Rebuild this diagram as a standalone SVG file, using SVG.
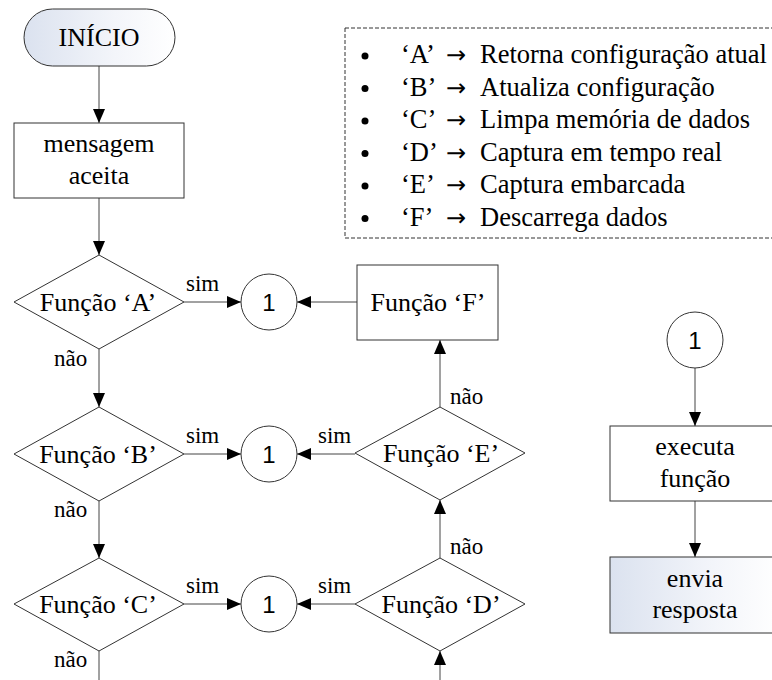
<svg xmlns="http://www.w3.org/2000/svg" width="772" height="680" viewBox="0 0 772 680">
<defs>
<linearGradient id="g" x1="0" y1="0" x2="1" y2="0">
<stop offset="0" stop-color="#dbe2ef"/>
<stop offset="0.6" stop-color="#f3f5fa"/>
<stop offset="1" stop-color="#ffffff"/>
</linearGradient>
<marker id="ah" viewBox="0 0 14 12" refX="14" refY="6" markerWidth="14" markerHeight="12" markerUnits="userSpaceOnUse" orient="auto">
<path d="M0,0 L14,6 L0,12 Z" fill="#000"/>
</marker>
<style>
.n{fill:#fff;stroke:#333;stroke-width:1}
.t{font-family:'Liberation Serif','Times New Roman',serif;font-size:26px;fill:#000;text-anchor:middle}
.l{font-family:'Liberation Serif','Times New Roman',serif;font-size:23px;fill:#000}
.lg{font-family:'Liberation Serif','Times New Roman',serif;font-size:26.5px;fill:#000}
.ar{font-family:'DejaVu Sans',sans-serif;font-size:24px;fill:#000}
.c{font-family:'Liberation Sans',Arial,sans-serif;font-size:24px;fill:#000;text-anchor:middle}
.e{stroke:#444;stroke-width:1;fill:none}
.a{stroke:#444;stroke-width:1;fill:none;marker-end:url(#ah)}
</style>
</defs>
<rect width="772" height="680" fill="#fff"/>

<g id="legend">
<rect x="345" y="28" width="440" height="210" fill="none" stroke="#333" stroke-width="1" stroke-dasharray="4 2"/>
<circle cx="365" cy="56" r="3.5"/><circle cx="365" cy="88.5" r="3.5"/><circle cx="365" cy="121" r="3.5"/>
<circle cx="365" cy="153.5" r="3.5"/><circle cx="365" cy="186" r="3.5"/><circle cx="365" cy="218.5" r="3.5"/>
<text class="lg" x="401" y="63">‘A’</text><text class="ar" x="446" y="63">→</text><text class="lg" x="480" y="63">Retorna configuração atual</text>
<text class="lg" x="401" y="95.5">‘B’</text><text class="ar" x="446" y="95.5">→</text><text class="lg" x="480" y="95.5">Atualiza configuração</text>
<text class="lg" x="401" y="128">‘C’</text><text class="ar" x="446" y="128">→</text><text class="lg" x="480" y="128">Limpa memória de dados</text>
<text class="lg" x="401" y="160.5">‘D’</text><text class="ar" x="446" y="160.5">→</text><text class="lg" x="480" y="160.5">Captura em tempo real</text>
<text class="lg" x="401" y="193">‘E’</text><text class="ar" x="446" y="193">→</text><text class="lg" x="480" y="193">Captura embarcada</text>
<text class="lg" x="401" y="225.5">‘F’</text><text class="ar" x="446" y="225.5">→</text><text class="lg" x="480" y="225.5">Descarrega dados</text>
</g>

<g id="connectors">
<line class="a" x1="99" y1="66" x2="99" y2="123"/>
<line class="a" x1="99" y1="198" x2="99" y2="255"/>
<line class="a" x1="99" y1="349" x2="99" y2="407"/>
<line class="a" x1="99" y1="501" x2="99" y2="558"/>
<line class="e" x1="99" y1="651" x2="99" y2="680"/>
<line class="a" x1="184" y1="302" x2="241" y2="302"/>
<line class="a" x1="184" y1="454" x2="241" y2="454"/>
<line class="a" x1="184" y1="604" x2="241" y2="604"/>
<line class="a" x1="357" y1="302" x2="297" y2="302"/>
<line class="a" x1="355" y1="454" x2="297" y2="454"/>
<line class="a" x1="355" y1="604" x2="297" y2="604"/>
<line class="a" x1="440" y1="407" x2="440" y2="340"/>
<line class="a" x1="440" y1="558" x2="440" y2="500"/>
<line class="a" x1="440" y1="680" x2="440" y2="651"/>
<line class="a" x1="695" y1="368" x2="695" y2="426"/>
<line class="a" x1="695" y1="501" x2="695" y2="557"/>
<text class="l" x="186" y="291">sim</text>
<text class="l" x="186" y="443">sim</text>
<text class="l" x="186" y="593">sim</text>
<text class="l" x="318" y="443">sim</text>
<text class="l" x="318" y="593">sim</text>
<text class="l" x="54" y="366">não</text>
<text class="l" x="54" y="517">não</text>
<text class="l" x="54" y="667">não</text>
<text class="l" x="450" y="404">não</text>
<text class="l" x="450" y="554">não</text>
</g>

<g id="inicio">
<rect x="24" y="9" width="151" height="57" rx="28.5" fill="url(#g)" stroke="#333"/>
<text class="t" x="99" y="46">INÍCIO</text>
</g>
<g id="mensagem">
<rect class="n" x="14" y="123" width="170" height="75"/>
<text class="t" x="99" y="152">mensagem</text>
<text class="t" x="99" y="184">aceita</text>
</g>
<g id="funcA">
<polygon class="n" points="99,255 184,302 99,349 14,302"/>
<text class="t" x="98" y="311">Função ‘A’</text>
</g>
<g id="funcB">
<polygon class="n" points="99,407 184,454 99,501 14,454"/>
<text class="t" x="98" y="463">Função ‘B’</text>
</g>
<g id="funcC">
<polygon class="n" points="99,558 184,604 99,651 14,604"/>
<text class="t" x="98" y="613">Função ‘C’</text>
</g>
<g id="c1a"><circle class="n" cx="269" cy="302" r="28"/><text class="c" x="269" y="311">1</text></g>
<g id="c1b"><circle class="n" cx="269" cy="454" r="28"/><text class="c" x="269" y="463">1</text></g>
<g id="c1c"><circle class="n" cx="269" cy="604" r="28"/><text class="c" x="269" y="613">1</text></g>
<g id="funcF">
<rect class="n" x="357" y="265" width="141" height="75"/>
<text class="t" x="428" y="311">Função ‘F’</text>
</g>
<g id="funcE">
<polygon class="n" points="440,407 525,453 440,500 355,453"/>
<text class="t" x="441" y="462">Função ‘E’</text>
</g>
<g id="funcD">
<polygon class="n" points="440,558 525,604 440,651 355,604"/>
<text class="t" x="441" y="613">Função ‘D’</text>
</g>
<g id="c1r"><circle class="n" cx="695" cy="340" r="28"/><text class="c" x="695" y="349">1</text></g>
<g id="executa">
<rect class="n" x="610" y="426" width="172" height="75"/>
<text class="t" x="695" y="455">executa</text>
<text class="t" x="695" y="487">função</text>
</g>
<g id="envia">
<rect x="610" y="557" width="172" height="76" fill="url(#g)" stroke="#333"/>
<text class="t" x="695" y="587">envia</text>
<text class="t" x="695" y="618">resposta</text>
</g>
</svg>
